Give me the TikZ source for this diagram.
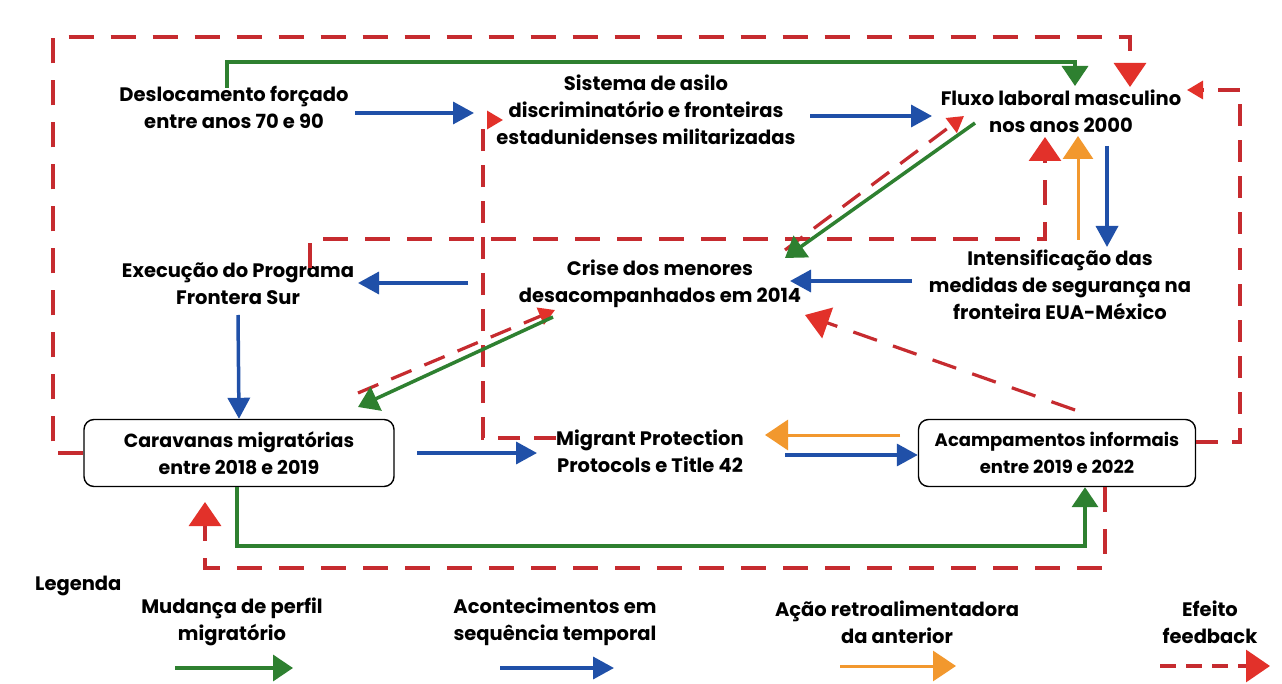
\documentclass[tikz,border=0pt]{standalone}
\usepackage{fontspec}
\setmainfont{Poppins}
\usetikzlibrary{arrows.meta}
\definecolor{fbred}{HTML}{C62B2F}
\definecolor{tipred}{HTML}{E2312A}
\definecolor{mgreen}{HTML}{2E8030}
\definecolor{mblue}{HTML}{2050A8}
\definecolor{morange}{HTML}{F2982E}
\tikzset{
  txt/.style={align=center, inner sep=0pt, font=\bfseries\fontsize{19.5}{27}\selectfont},
  boxnode/.style={draw=black, line width=1.4pt, rounded corners=10pt, align=center, inner sep=0pt, font=\bfseries\fontsize{19}{27}\selectfont},
  barrow/.style={draw=mblue, line width=3.5pt, -{Triangle[length=21pt,width=22pt]}},
  garrow/.style={draw=mgreen, line width=3.5pt, -{Triangle[length=20pt,width=26pt]}},
  oarrow/.style={draw=morange, line width=3pt, -{Triangle[length=23pt,width=30pt,color=morange]}},
  rarrow/.style={draw=fbred, line width=3.2pt, dash pattern=on 25pt off 17pt, -{Triangle[length=24pt,width=32pt,color=tipred]}},
  rsmall/.style={draw=fbred, line width=3.2pt, dash pattern=on 22pt off 14pt, -{Triangle[length=16pt,width=18pt,color=tipred]}},
}
\begin{document}
\begin{tikzpicture}[x=1pt,y=-1pt]
\useasboundingbox[fill=white] (0,0) rectangle (1282,684);

% nodes
\node[txt] (desl) at (234,107) {Deslocamento forçado\\entre anos 70 e 90};
\node[txt] (sist) at (646,110) {Sistema de asilo\\discriminatório e fronteiras\\estadunidenses militarizadas};
\node[txt] (fluxo) at (1061,111) {Fluxo laboral masculino\\nos anos 2000};
\node[txt] (exec) at (238,284) {Execução do Programa\\Frontera Sur};
\node[txt] (crise) at (660,284) {Crise dos menores\\desacompanhados em 2014};
\node[txt] (intens) at (1060,285) {Intensificação das\\medidas de segurança na\\fronteira EUA-México};
\node[boxnode, minimum width=310pt, minimum height=67pt] (carav) at (239,453) {Caravanas migratórias\\entre 2018 e 2019};
\node[txt] (mpp) at (650,451) {Migrant Protection\\Protocols e Title 42};
\node[boxnode, minimum width=277pt, minimum height=67pt, font=\bfseries\fontsize{18}{27}\selectfont] (acamp) at (1057,453) {Acampamentos informais\\entre 2019 e 2022};

% coordinates for free ends
\coordinate (tl) at (53,37);
\coordinate (tr) at (1130,37);
\coordinate (gl) at (227,62);
\coordinate (gr) at (1075,62);
\coordinate (rr) at (1240,90);
\coordinate (ia) at (310,268);
\coordinate (ib) at (1045,239);
\coordinate (va) at (483,120);
\coordinate (bb) at (1105,568);
\coordinate (bl) at (205,568);
\coordinate (gb) at (237,546);
\coordinate (gbr) at (1085,546);

% red dashed feedback loops
\draw[rarrow] (carav.west |- 0,453) -- (tl |- 0,453) -- (tl) -- (tr) -- (1130,87);
\draw[rsmall] (acamp.east |- 0,442) -- (rr |- 0,442) -- (rr) -- (1187,90);
\draw[rsmall] (785,250) -- (964,116);
\draw[rarrow] (ia) -- (310,239) -- (ib) -- (1045,137);
\draw[rsmall] (mpp.west |- 0,438) -- (483,438) -- (va) -- (503,120);
\draw[rarrow] (1075,410) -- (805,315);
\draw[rsmall] (358,393) -- (555,310);
\draw[rarrow] (acamp.south -| bb) -- (bb) -- (bl) -- (205,502);

% green
\draw[garrow] (227,88) -- (gl) -- (gr) -- (1075,86);
\draw[garrow] (975,123) -- (785,258);
\draw[garrow] (553,317) -- (358,407);
\draw[garrow] (carav.south -| gb) -- (gb) -- (gbr) -- (acamp.south -| gbr);

% orange
\draw[oarrow] (1078,240) -- (1078,136);
\draw[oarrow] (900,435) -- (765,435);

% blue
\draw[barrow] (355,113) -- (474,113);
\draw[barrow] (810,116) -- (932,116);
\draw[barrow] (1107,146) -- (1107,247);
\draw[barrow] (912,281) -- (790,281);
\draw[barrow] (468,283) -- (358,283);
\draw[barrow] (exec.south |- 0,315) -- (carav.north);
\draw[barrow] (417,453) -- (537,453);
\draw[barrow] (785,455) -- (acamp.west |- 0,455);

% legend
\node[txt, anchor=west] (leg) at (35,586) {Legenda};
\node[txt] (l1) at (232,622) {Mudança de perfil\\migratório};
\node[txt] (l2) at (555,622) {Acontecimentos em\\sequência temporal};
\node[txt] (l3) at (897,622) {Ação retroalimentadora\\da anterior};
\node[txt] (l4) at (1210,622) {Efeito\\feedback};
\coordinate (g1) at (175,668); \coordinate (g2) at (293,668);
\coordinate (b1) at (500,668); \coordinate (b2) at (614,668);
\coordinate (o1) at (840,666); \coordinate (o2) at (956,666);
\coordinate (r1) at (1160,666); \coordinate (r2) at (1270,666);
\draw[garrow] (g1) -- (g2);
\draw[barrow] (b1) -- (b2);
\draw[oarrow] (o1) -- (o2);
\draw[rarrow, dash pattern=on 16pt off 10pt] (r1) -- (r2);
\end{tikzpicture}
\end{document}
